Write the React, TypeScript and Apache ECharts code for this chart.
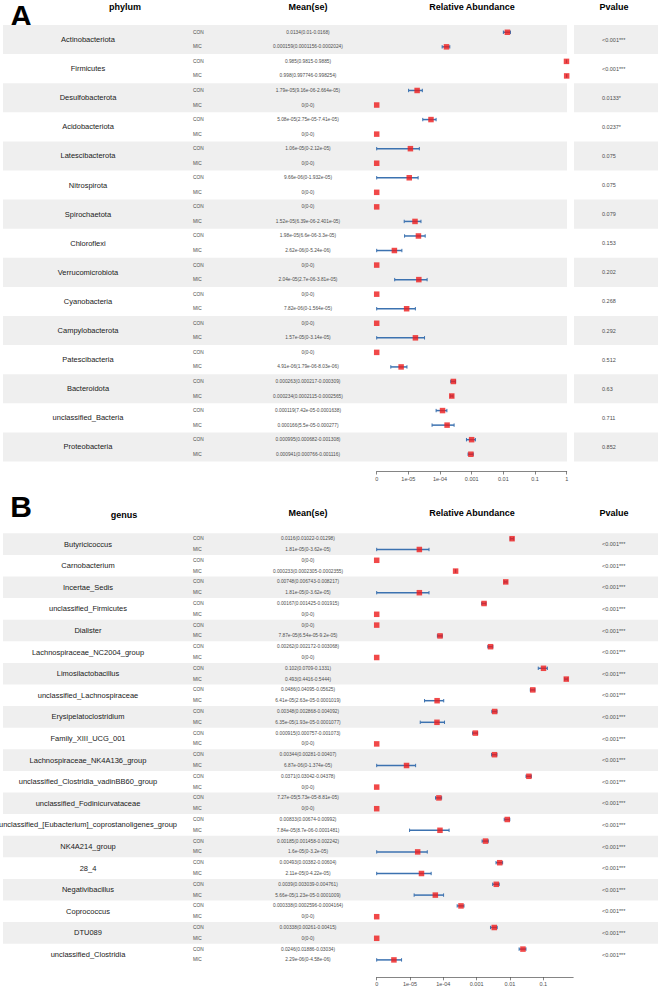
import React, { useEffect, useRef } from 'react';
import * as echarts from 'echarts';

// ---------- Panel A: phylum ----------
const phylumNames = ['Actinobacteriota', 'Firmicutes', 'Desulfobacterota', 'Acidobacteriota', 'Latescibacterota', 'Nitrospirota', 'Spirochaetota', 'Chloroflexi', 'Verrucomicrobiota', 'Cyanobacteria', 'Campylobacterota', 'Patescibacteria', 'Bacteroidota', 'unclassified_Bacteria', 'Proteobacteria'];
const phylumConMean = [0.0134, 0.985, 1.79e-05, 5.08e-05, 1.06e-05, 9.66e-06, 0, 1.98e-05, 0, 0, 0, 0, 0.000263, 0.000119, 0.000995];
const phylumConLow = [0.01, 0.9815, 9.16e-06, 2.75e-05, 0, 0, 0, 6.6e-06, 0, 0, 0, 0, 0.000217, 7.42e-05, 0.000682];
const phylumConHigh = [0.0168, 0.9885, 2.664e-05, 7.41e-05, 2.12e-05, 1.932e-05, 0, 3.3e-05, 0, 0, 0, 0, 0.000309, 0.0001638, 0.001308];
const phylumMicMean = [0.000159, 0.998, 0, 0, 0, 0, 1.52e-05, 2.62e-06, 2.04e-05, 7.82e-06, 1.57e-05, 4.91e-06, 0.000234, 0.000166, 0.000941];
const phylumMicLow = [0.0001156, 0.997746, 0, 0, 0, 0, 6.39e-06, 0, 2.7e-06, 0, 0, 1.79e-06, 0.0002115, 5.5e-05, 0.000766];
const phylumMicHigh = [0.0002024, 0.998254, 0, 0, 0, 0, 2.401e-05, 5.24e-06, 3.81e-05, 1.564e-05, 3.14e-05, 8.03e-06, 0.0002565, 0.000277, 0.001116];
const phylumPvalue = ['<0.001***', '<0.001***', '0.0133*', '0.0237*', '0.075', '0.075', '0.079', '0.153', '0.202', '0.268', '0.292', '0.512', '0.63', '0.711', '0.852'];

// ---------- Panel B: genus ----------
const genusNames = ['Butyricicoccus', 'Carnobacterium', 'Incertae_Sedis', 'unclassified_Firmicutes', 'Dialister', 'Lachnospiraceae_NC2004_group', 'Limosilactobacillus', 'unclassified_Lachnospiraceae', 'Erysipelatoclostridium', 'Family_XIII_UCG_001', 'Lachnospiraceae_NK4A136_group', 'unclassified_Clostridia_vadinBB60_group', 'unclassified_Fodinicurvataceae', 'unclassified_[Eubacterium]_coprostanoligenes_group', 'NK4A214_group', '28_4', 'Negativibacillus', 'Coprococcus', 'DTU089', 'unclassified_Clostridia'];
const genusConMean = [0.0116, 0, 0.00748, 0.00167, 0, 0.00262, 0.102, 0.0486, 0.00348, 0.000915, 0.00344, 0.0371, 7.27e-05, 0.00833, 0.00185, 0.00493, 0.0039, 0.000338, 0.00338, 0.0246];
const genusConLow = [0.01022, 0, 0.006743, 0.001425, 0, 0.002172, 0.0709, 0.04095, 0.002868, 0.000757, 0.00281, 0.03042, 5.73e-05, 0.00674, 0.001458, 0.00382, 0.003039, 0.0002596, 0.00261, 0.01886];
const genusConHigh = [0.01298, 0, 0.008217, 0.001915, 0, 0.003068, 0.1331, 0.05625, 0.004092, 0.001073, 0.00407, 0.04378, 8.81e-05, 0.00992, 0.002242, 0.00604, 0.004761, 0.0004164, 0.00415, 0.03034];
const genusMicMean = [1.81e-05, 0.000233, 1.81e-05, 0, 7.87e-05, 0, 0.493, 6.41e-05, 6.35e-05, 0, 6.87e-06, 0, 0, 7.84e-05, 1.6e-05, 2.11e-05, 5.66e-05, 0, 0, 2.29e-06];
const genusMicLow = [0, 0.0002305, 0, 0, 6.54e-05, 0, 0.4416, 2.63e-05, 1.93e-05, 0, 0, 0, 0, 8.7e-06, 0, 0, 1.23e-05, 0, 0, 0];
const genusMicHigh = [3.62e-05, 0.0002355, 3.62e-05, 0, 9.2e-05, 0, 0.5444, 0.0001019, 0.0001077, 0, 1.374e-05, 0, 0, 0.0001481, 3.2e-05, 4.22e-05, 0.0001009, 0, 0, 4.58e-06];
const genusPvalue = ['<0.001***', '<0.001***', '<0.001***', '<0.001***', '<0.001***', '<0.001***', '<0.001***', '<0.001***', '<0.001***', '<0.001***', '<0.001***', '<0.001***', '<0.001***', '<0.001***', '<0.001***', '<0.001***', '<0.001***', '<0.001***', '<0.001***', '<0.001***'];

// ---------- Axis ----------
const tickValuesA = [0, 1, 2, 3, 4, 5, 6];
const tickValuesB = [0, 1, 2, 3, 4, 5];
const tickLabels = ['0', '1e-05', '1e-04', '0.001', '0.01', '0.1', '1'];
const groupLabels = ['CON', 'MIC'];

const FONT = '"Liberation Sans", Arial, Helvetica, sans-serif';
const BAND = '#efefef';
const RED = '#ee1c1c';
const BLUE = '#3c72b0';

const tr = (v: number) => Math.log10(v + 1e-6) + 6;

function fmt(v: number): string {
  if (v === 0) return '0';
  const fixed = String(v);
  const [m, e] = v.toExponential().split('e');
  const sign = e[0];
  let d = e.slice(1);
  if (d.length < 2) d = '0' + d;
  const sci = m + 'e' + sign + d;
  return fixed.length <= sci.length ? fixed : sci;
}

const meanText = (m: number, l: number, h: number) => `${fmt(m)}(${fmt(l)}-${fmt(h)})`;

interface PanelCfg {
  names: string[];
  conMean: number[]; conLow: number[]; conHigh: number[];
  micMean: number[]; micLow: number[]; micHigh: number[];
  pvalue: string[];
  top: number; rowH: number;
  bandRight: number; pBandLeft: number | null;
  xMax: number; plotWidth: number; axisOffset: number; ticks: number[];
}

function txt(text: string, x: number, y: number, align: string, size: number, color: string, weight = 'normal') {
  return {
    type: 'text',
    style: {
      text, x, y, fill: color,
      font: `${weight} ${size}px ${FONT}`,
      align, verticalAlign: 'middle', textAlign: align, textVerticalAlign: 'middle',
    },
  };
}

function buildPanel(cfg: PanelCfg, gi: number) {
  const n = cfg.names.length;
  const height = n * cfg.rowH;
  const bgGrid = { left: 0, top: cfg.top, width: 658, height };
  const plotGrid = { left: 376.7, top: cfg.top, width: cfg.plotWidth, height };
  const xAxes = [
    { type: 'value', gridIndex: gi, min: 0, max: 658, show: false },
    {
      type: 'value', gridIndex: gi + 1, min: 0, max: cfg.xMax, offset: cfg.axisOffset, position: 'bottom',
      splitLine: { show: false },
      axisLine: { show: true, onZero: false, lineStyle: { color: '#333', width: 0.6 } },
      axisTick: { show: true, length: 3, customValues: cfg.ticks, lineStyle: { color: '#333', width: 0.6 } },
      axisLabel: {
        customValues: cfg.ticks, fontSize: 5.5, color: '#4d4d4d', fontFamily: FONT, margin: 4,
        formatter: (v: number) => tickLabels[Math.round(v)],
      },
    },
  ];
  const yAxes = [
    { type: 'value', gridIndex: gi, min: 0, max: n, inverse: true, show: false },
    { type: 'value', gridIndex: gi + 1, min: 0, max: 2 * n, inverse: true, show: false },
  ];
  const bgSeries = {
    type: 'custom', xAxisIndex: gi, yAxisIndex: gi, z: 1, silent: true,
    data: cfg.names.map((_, i) => [0, i]),
    renderItem: (_p: any, api: any) => {
      const i = api.value(1);
      const yTop = api.coord([0, i])[1];
      const yBot = api.coord([0, i + 1])[1];
      const h = yBot - yTop;
      const children: any[] = [];
      if (i % 2 === 0) {
        children.push({ type: 'rect', shape: { x: 3, y: yTop, width: cfg.bandRight - 3, height: h }, style: { fill: BAND } });
        if (cfg.pBandLeft !== null) {
          children.push({ type: 'rect', shape: { x: cfg.pBandLeft, y: yTop, width: 658 - cfg.pBandLeft, height: h }, style: { fill: BAND } });
        }
      }
      children.push(txt(cfg.names[i], 88, yTop + h / 2, 'center', 7.5, '#1a1a1a'));
      children.push(txt(groupLabels[0], 193, yTop + h / 4, 'left', 4.8, '#4d4d4d'));
      children.push(txt(groupLabels[1], 193, yTop + (3 * h) / 4, 'left', 4.8, '#4d4d4d'));
      children.push(txt(meanText(cfg.conMean[i], cfg.conLow[i], cfg.conHigh[i]), 308, yTop + h / 4, 'center', 4.8, '#4d4d4d'));
      children.push(txt(meanText(cfg.micMean[i], cfg.micLow[i], cfg.micHigh[i]), 308, yTop + (3 * h) / 4, 'center', 4.8, '#4d4d4d'));
      children.push(txt(cfg.pvalue[i], 602, yTop + h / 2, 'left', 5.5, '#4d4d4d'));
      return { type: 'group', children };
    },
  };
  const errData: number[][] = [];
  const ptData: number[][] = [];
  for (let i = 0; i < n; i++) {
    if (cfg.conHigh[i] > cfg.conLow[i]) errData.push([tr(cfg.conLow[i]), tr(cfg.conHigh[i]), 2 * i + 0.5]);
    if (cfg.micHigh[i] > cfg.micLow[i]) errData.push([tr(cfg.micLow[i]), tr(cfg.micHigh[i]), 2 * i + 1.5]);
    ptData.push([tr(cfg.conMean[i]), 2 * i + 0.5]);
    ptData.push([tr(cfg.micMean[i]), 2 * i + 1.5]);
  }
  const errSeries = {
    type: 'custom', xAxisIndex: gi + 1, yAxisIndex: gi + 1, z: 3, silent: true,
    encode: { x: [0, 1], y: 2 },
    data: errData,
    renderItem: (_p: any, api: any) => {
      const lo = api.coord([api.value(0), api.value(2)]);
      const hi = api.coord([api.value(1), api.value(2)]);
      return {
        type: 'group',
        children: [
          { type: 'line', shape: { x1: lo[0], y1: lo[1], x2: hi[0], y2: hi[1] }, style: { stroke: BLUE, lineWidth: 1.5 } },
          { type: 'line', shape: { x1: lo[0], y1: lo[1] - 1.7, x2: lo[0], y2: lo[1] + 1.7 }, style: { stroke: BLUE, lineWidth: 1 } },
          { type: 'line', shape: { x1: hi[0], y1: hi[1] - 1.7, x2: hi[0], y2: hi[1] + 1.7 }, style: { stroke: BLUE, lineWidth: 1 } },
        ],
      };
    },
  };
  const ptSeries = {
    type: 'scatter', xAxisIndex: gi + 1, yAxisIndex: gi + 1, z: 4, silent: true,
    symbol: 'rect', symbolSize: 5.5, itemStyle: { color: RED },
    data: ptData,
  };
  return { grids: [bgGrid, plotGrid], xAxes, yAxes, series: [bgSeries, errSeries, ptSeries] };
}

export default function App() {
  const ref = useRef<HTMLDivElement>(null);
  useEffect(() => {
    document.body.style.margin = '0';
    if (!ref.current) return;
    const chart = echarts.init(ref.current, undefined, { renderer: 'svg' });
    const pA = buildPanel({
      names: phylumNames, conMean: phylumConMean, conLow: phylumConLow, conHigh: phylumConHigh,
      micMean: phylumMicMean, micLow: phylumMicLow, micHigh: phylumMicHigh, pvalue: phylumPvalue,
      top: 25, rowH: 29.1, bandRight: 567, pBandLeft: 574,
      xMax: 6, plotWidth: 190, axisOffset: 10, ticks: tickValuesA,
    }, 0);
    const pB = buildPanel({
      names: genusNames, conMean: genusConMean, conLow: genusConLow, conHigh: genusConHigh,
      micMean: genusMicMean, micLow: genusMicLow, micHigh: genusMicHigh, pvalue: genusPvalue,
      top: 533.3, rowH: 21.6, bandRight: 658, pBandLeft: null,
      xMax: 5.9, plotWidth: 196.5, axisOffset: 12, ticks: tickValuesB,
    }, 2);
    const header = (text: string, x: number, y: number, size = 9) => ({
      type: 'text', x, y,
      style: { text, fill: '#000', font: `bold ${size}px ${FONT}`, textAlign: 'center', textVerticalAlign: 'middle', align: 'center', verticalAlign: 'middle' },
    });
    chart.setOption({
      animation: false,
      backgroundColor: '#ffffff',
      grid: [...pA.grids, ...pB.grids],
      xAxis: [...pA.xAxes, ...pB.xAxes],
      yAxis: [...pA.yAxes, ...pB.yAxes],
      series: [...pA.series, ...pB.series],
      graphic: [
        header('A', 21, 15, 30),
        header('phylum', 125, 7),
        header('Mean(se)', 308, 7),
        header('Relative Abundance', 472, 7),
        header('Pvalue', 614, 7),
        header('B', 21, 506, 30),
        header('genus', 124, 515),
        header('Mean(se)', 308, 513),
        header('Relative Abundance', 472, 513),
        header('Pvalue', 614, 513),
      ],
    });
    return () => chart.dispose();
  }, []);
  return <div ref={ref} style={{ width: 658, height: 991 }} />;
}
